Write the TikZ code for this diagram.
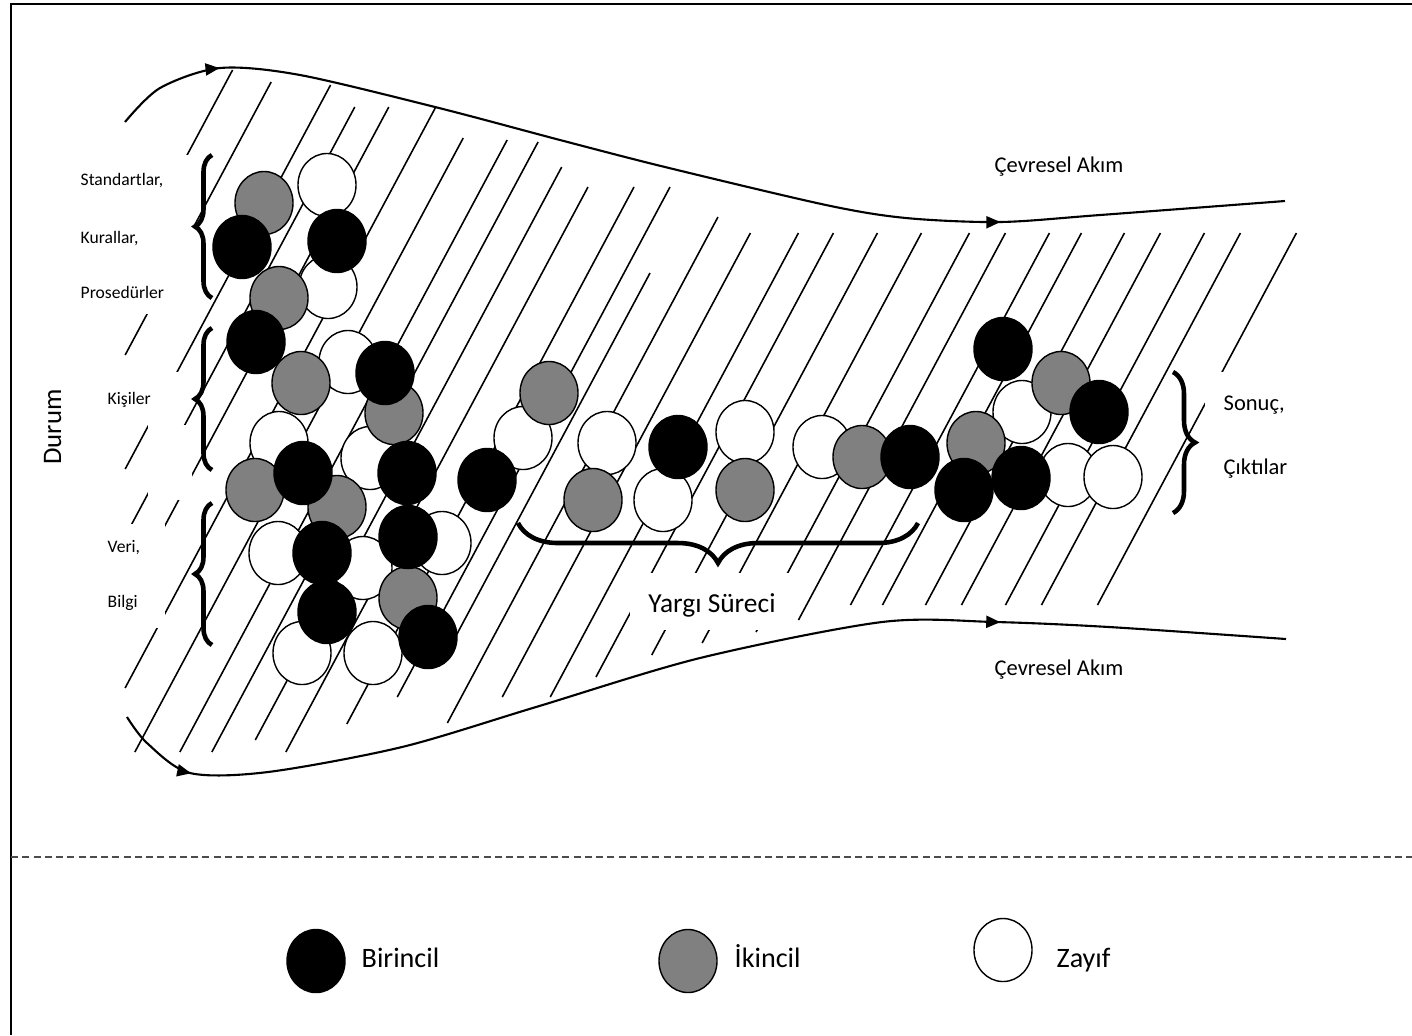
\documentclass[tikz,border=0pt]{standalone}
\usepackage{fontspec}
\setmainfont{Carlito}
\usetikzlibrary{arrows.meta,decorations.markings,decorations.pathreplacing,shapes.geometric}

\begin{document}
\begin{tikzpicture}[x=0.01cm,y=-0.01cm,
    >={Triangle[length=1.4mm,width=1.2mm]},
    bead/.style={ellipse,draw,line width=0.4pt,minimum width=5.8mm,minimum height=6.3mm,inner sep=0pt},
    prim/.style={bead,fill=black},
    sec/.style={bead,fill=gray},
    weak/.style={bead,fill=white},
    hatch/.style={line width=0.45pt},
    flow/.style={line width=0.6pt,postaction={decorate}},
    curly/.style={decorate,decoration={brace,amplitude=#1},line width=1.3pt},
    tiny/.style={font=\fontsize{5}{6}\selectfont,anchor=base west,inner sep=0pt},
    small/.style={font=\fontsize{6.4}{7}\selectfont,anchor=base,inner sep=0pt},
    mid/.style={font=\fontsize{7.8}{9}\selectfont,anchor=base,inner sep=0pt},
    key/.style={font=\fontsize{8}{9}\selectfont,anchor=base west,inner sep=0pt}]
    \useasboundingbox (0,0) rectangle (1412,1035);
    % frame and legend separator
    \draw[line width=0.6pt] (1412,4) -- (11,4) -- (11,1035);
    \draw[gray!60!black,line width=0.6pt,dash pattern=on 2pt off 1.2pt] (11,857) -- (1412,857);
    % hatching
    \foreach \c/\t/\b in {270/70/271,315/82/355,376/85/469,412/107/537,446/107/600,493/108/688,
        537/138/752,582/140/752,614/142/752,651/167/740,688/187/752,734/187/724,770/187/697,
        796/273/640,834/217/723,875/233/697,923/233/697,958/233/677,1002/233/655,1046/233/643,
        1094/233/632,1130/233/620,1174/233/605,1206/233/605,1249/233/605,1285/233/605,
        1329/233/605,1365/233/605,1421/233/605}
        \draw[hatch] ({\c-\t/1.87},\t) -- ({\c-\b/1.87},\b);
    % label boxes
    \fill[white] (62,155) rectangle (194,314);
    \fill[white] (100,372) rectangle (178,425);
    \fill[white] (148,425) rectangle (192,500);
    \fill[white] (95,524) rectangle (165,628);
    \fill[white] (630,573) rectangle (795,630);
    \fill[white] (1205,372) rectangle (1300,500);
    % flows
    \draw[flow,decoration={markings,mark=at position 1.12cm with {\arrow{>}},
        mark=at position 9.1cm with {\arrow{>}}}]
        plot[smooth] coordinates {(125,122) (160,88) (220,68) (300,75) (439,108) (560,140)
        (665,167) (826,205) (906,218) (1000,222) (1100,215) (1285,201)};
    \draw[flow,decoration={markings,mark=at position 0.87cm with {\arrow{>}},
        mark=at position 9.15cm with {\arrow{>}}}]
        plot[smooth] coordinates {(127,717) (147,743) (190,773) (268,772) (402,747) (536,707)
        (700,658) (882,622) (995,622) (1109,627) (1286,639)};
    % beads
    \foreach \x/\y [count=\i] in {327/185,328/287,348/362,279/443,370/458,278/553,363/568,
        442/543,302/653,373/653,523/438,607/443,663/500,745/432,822/447,1022/412,1068/475,1113/477}
        \node[weak] (w\i) at (\x,\y) {};
    \foreach \x/\y [count=\i] in {264/203,279/298,301/383,394/413,255/490,337/507,408/598,
        549/393,593/500,745/490,862/457,1061/383,976/443}
        \node[sec] (s\i) at (\x,\y) {};
    \foreach \x/\y [count=\i] in {242/247,337/241,256/342,385/373,303/473,407/473,322/553,
        408/537,327/612,428/637,487/480,678/447,910/457,1003/349,1099/412,964/490,1021/478}
        \node[prim] (p\i) at (\x,\y) {};
    % braces
    \draw[curly=1.7mm] (212,298) -- (212,155);
    \draw[curly=1.7mm] (212,470) -- (212,328);
    \draw[curly=1.7mm] (212,645) -- (212,503);
    \draw[curly=4mm] (918,523) -- (518,523);
    \draw[curly=2.2mm] (1173,372) -- (1173,513);
    % texts
    \node[font=\fontsize{7.6}{9}\selectfont,rotate=90,anchor=base] (durum) at (61,427) {Durum};
    \node[tiny] (std) at (80,185) {Standartlar,};
    \node[tiny] (kur) at (80,243) {Kurallar,};
    \node[tiny] (pro) at (80,298) {Prosedürler};
    \node[tiny] (kis) at (107,404) {Kişiler};
    \node[tiny] (ver) at (107,552) {Veri,};
    \node[tiny] (bil) at (107,607) {Bilgi};
    \node[mid] (yargi) at (712,612) {Yargı Süreci};
    \node[small] (akim1) at (1059,172) {Çevresel Akım};
    \node[small] (akim2) at (1059,675) {Çevresel Akım};
    \node[small,anchor=base west] (son) at (1223,410) {Sonuç,};
    \node[small,anchor=base west] (cik) at (1223,474) {Çıktılar};
    % legend
    \node[prim] (kp) at (316,961) {};
    \node[key] at (361,967) {Birincil};
    \node[sec] (ks) at (688,961) {};
    \node[key] at (734,967) {İkincil};
    \node[weak] (kw) at (1003,950) {};
    \node[key] at (1056,967) {Zayıf};
\end{tikzpicture}
\end{document}
